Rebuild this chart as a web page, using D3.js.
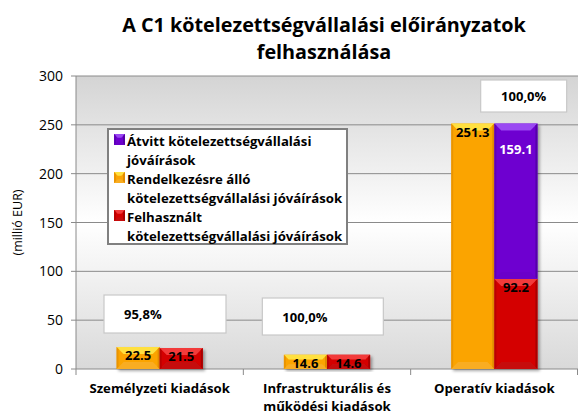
<!DOCTYPE html>
<html><head><meta charset="utf-8">
<script src="https://cdn.jsdelivr.net/npm/d3@7"></script>
<style>body{margin:0;background:#fff}svg{display:block;font-family:"Open Sans",Lato,sans-serif}</style>
</head><body><svg id="c" width="578" height="414"></svg>
<script>
const categories = [["Személyzeti kiadások"], ["Infrastrukturális és", "működési kiadások"], ["Operatív kiadások"]];
const rendelkezesre = [22.5, 14.6, 251.3];
const felhasznalt = [21.5, 14.6, 92.2];
const atvitt = [0, 0, 159.1];
const percentLabels = ["95,8%", "100,0%", "100,0%"];
const yTicks = [0, 50, 100, 150, 200, 250, 300];
const legendLabels = [["Átvitt kötelezettségvállalási", "jóváírások"], ["Rendelkezésre álló", "kötelezettségvállalási jóváírások"], ["Felhasznált", "kötelezettségvállalási jóváírások"]];
const titleLines = ["A C1 kötelezettségvállalási előirányzatok", "felhasználása"];

const svg = d3.select("#c");
const L = 76, R = 578, T = 76, B = 369;
const x = d3.scaleBand().domain(d3.range(3)).range([L, R]).padding(0);
const x1 = d3.scaleBand().domain([0, 1]).range([0, x.bandwidth()]).paddingOuter(0.94).paddingInner(0);
const y = d3.scaleLinear().domain([0, 300]).range([B, T]);

const defs = svg.append("defs");
const bg = defs.append("linearGradient").attr("id", "bg").attr("x1", 0).attr("x2", 0).attr("y1", 0).attr("y2", 1);
bg.append("stop").attr("offset", "0%").attr("stop-color", "#d4d4d4");
bg.append("stop").attr("offset", "50%").attr("stop-color", "#ffffff");
bg.append("stop").attr("offset", "100%").attr("stop-color", "#d9d9d9");
const sh = defs.append("filter").attr("id", "sh").attr("x", "-10%").attr("y", "-10%").attr("width", "130%").attr("height", "130%");
sh.append("feDropShadow").attr("dx", 2).attr("dy", 2).attr("stdDeviation", 1.5).attr("flood-color", "#000").attr("flood-opacity", 0.35);

svg.append("rect").attr("x", L).attr("y", T).attr("width", R - L).attr("height", B - T).attr("fill", "url(#bg)");

// gridlines
svg.append("g").selectAll("line").data(yTicks).join("line")
  .attr("x1", L - 5).attr("x2", R).attr("y1", d => y(d)).attr("y2", d => y(d))
  .attr("stroke", "#8a8a8a").attr("stroke-width", 1);
svg.append("line").attr("x1", L).attr("x2", L).attr("y1", T).attr("y2", B).attr("stroke", "#8a8a8a");
svg.append("g").selectAll("line").data([0, 1, 2, 3]).join("line")
  .attr("x1", i => i < 3 ? x(i) : R - 0.5).attr("x2", i => i < 3 ? x(i) : R - 0.5).attr("y1", B).attr("y2", B + 6).attr("stroke", "#8a8a8a");

// y axis labels
svg.append("g").selectAll("text").data(yTicks).join("text")
  .attr("x", L - 13).attr("y", d => y(d) + 5).attr("text-anchor", "end")
  .attr("font-size", 14).attr("fill", "#000").text(d => d);
svg.append("text").attr("transform", `translate(22,${(T + B) / 2}) rotate(-90)`).attr("text-anchor", "middle")
  .attr("font-size", 12.5).text("(millió EUR)");

// title
svg.append("g").selectAll("text").data(titleLines).join("text")
  .attr("x", 324).attr("y", (d, i) => 32 + i * 27).attr("text-anchor", "middle")
  .attr("font-size", 19.8).attr("font-weight", "bold").text(d => d);

// bevel bar
const palettes = {
  orange: {main: "#fba403", top: "#ffe040", side: "#e08a00", bot: "#f8b030"},
  red: {main: "#d40000", top: "#f23a3a", side: "#a80000", bot: "#c01010"},
  purple: {main: "#6e00d0", top: "#9a48f2", side: "#5400a8", bot: "#6a00c8"}
};
function bar(g, bx, by, bw, bh, p) {
  const b = Math.min(7, bh / 3);
  g.append("rect").attr("x", bx).attr("y", by).attr("width", bw).attr("height", bh).attr("fill", p.main);
  g.append("polygon").attr("points", [[bx, by], [bx + bw, by], [bx + bw - b, by + b], [bx + b, by + b]].join(" ")).attr("fill", p.top);
  g.append("polygon").attr("points", [[bx, by + bh], [bx + bw, by + bh], [bx + bw - b, by + bh - b], [bx + b, by + bh - b]].join(" ")).attr("fill", p.bot).attr("opacity", 0.7);
  g.append("polygon").attr("points", [[bx + bw, by], [bx + bw, by + bh], [bx + bw - 2, by + bh - 2], [bx + bw - 2, by + 2]].join(" ")).attr("fill", p.side);
  g.append("polygon").attr("points", [[bx, by], [bx, by + bh], [bx + 2, by + bh - 2], [bx + 2, by + 2]].join(" ")).attr("fill", p.side).attr("opacity", 0.6);
}
const gb = svg.append("g");
categories.forEach((c, i) => {
  const g = gb.append("g").attr("filter", "url(#sh)");
  const xo = x(i) + x1(0), xr = x(i) + x1(1), w = x1.bandwidth();
  bar(g, xo, y(rendelkezesre[i]), w, y(0) - y(rendelkezesre[i]), palettes.orange);
  bar(g, xr, y(felhasznalt[i]), w, y(0) - y(felhasznalt[i]), palettes.red);
  if (atvitt[i] > 0) bar(g, xr, y(felhasznalt[i] + atvitt[i]), w, y(felhasznalt[i]) - y(felhasznalt[i] + atvitt[i]), palettes.purple);
});
// value labels
categories.forEach((c, i) => {
  const w = x1.bandwidth();
  const lab = (cx, v, top, col) => svg.append("text").attr("x", cx).attr("y", y(top) + 13).attr("text-anchor", "middle")
    .attr("font-size", 13).attr("font-weight", "bold").attr("fill", col).text(v.toFixed(1));
  lab(x(i) + x1(0) + w / 2, rendelkezesre[i], rendelkezesre[i], "#000");
  lab(x(i) + x1(1) + w / 2, felhasznalt[i], felhasznalt[i], "#000");
  if (atvitt[i] > 0) svg.append("text").attr("x", x(i) + x1(1) + w / 2).attr("y", y(felhasznalt[i] + atvitt[i]) + 30)
    .attr("text-anchor", "middle").attr("font-size", 13).attr("font-weight", "bold").attr("fill", "#fff").text(atvitt[i].toFixed(1));
});

// percent boxes
const boxes = [{dx: 28, w: 122, y0: 295, h: 38, tx: 20}, {dx: 19, w: 121, y0: 298, h: 37, tx: 20}, {dx: 70, w: 86, y0: 80, h: 32, tx: 0}];
percentLabels.forEach((p, i) => {
  const b = boxes[i];
  svg.append("rect").attr("x", x(i) + b.dx).attr("y", b.y0).attr("width", b.w).attr("height", b.h)
    .attr("fill", "#fff").attr("stroke", "#c8c8c8").attr("stroke-width", 1.2);
  svg.append("text").attr("x", b.tx ? x(i) + b.dx + b.tx : x(i) + b.dx + b.w / 2).attr("y", b.y0 + b.h / 2 + 5)
    .attr("text-anchor", b.tx ? "start" : "middle").attr("font-size", 13).attr("font-weight", "bold").text(p);
});

// category labels
categories.forEach((c, i) => {
  svg.append("g").selectAll("text").data(c).join("text")
    .attr("x", x(i) + x.bandwidth() / 2).attr("y", (d, j) => 393 + j * 18).attr("text-anchor", "middle")
    .attr("font-size", 13.2).attr("font-weight", "bold").text(d => d);
});

// legend
const lg = svg.append("g");
lg.append("rect").attr("x", 108).attr("y", 129).attr("width", 239).attr("height", 115)
  .attr("fill", "#fff").attr("stroke", "#808080").attr("stroke-width", 2);
const legPal = [palettes.purple, palettes.orange, palettes.red];
legendLabels.forEach((ll, i) => {
  const yy = 134 + i * 38;
  const mg = lg.append("g");
  bar(mg, 114, yy, 11, 11, legPal[i]);
  ll.forEach((t, j) => lg.append("text").attr("x", 127).attr("y", yy + 12 + j * 19)
    .attr("font-size", 13.2).attr("font-weight", "bold").text(t));
});
</script></body></html>
